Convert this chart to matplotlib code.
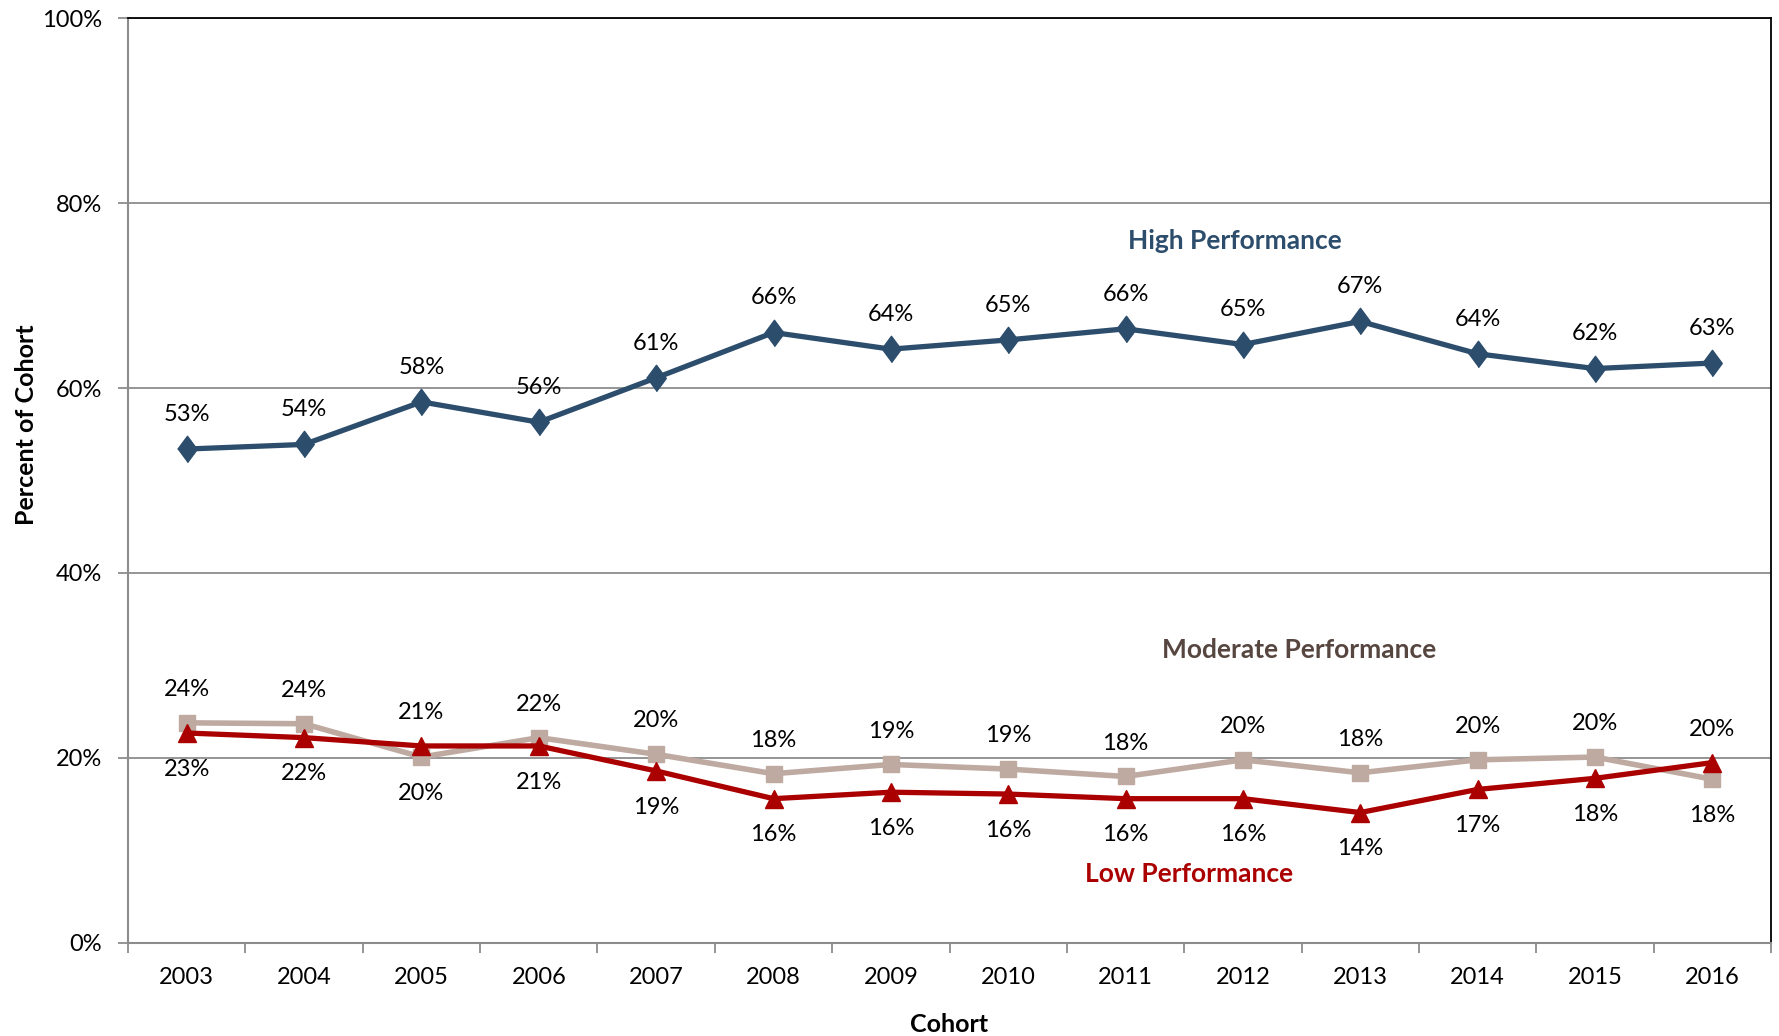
import matplotlib.pyplot as plt
import matplotlib.ticker as mticker
import numpy as np

plt.rcParams["font.family"] = ["Lato", "DejaVu Sans"]

cohorts = ["2003", "2004", "2005", "2006", "2007", "2008", "2009",
           "2010", "2011", "2012", "2013", "2014", "2015", "2016"]
high = [53.4, 53.9, 58.5, 56.3, 61.1, 66.0, 64.2, 65.2, 66.4, 64.7, 67.2, 63.7, 62.1, 62.7]
moderate = [23.8, 23.7, 20.1, 22.2, 20.4, 18.3, 19.3, 18.8, 18.0, 19.8, 18.4, 19.8, 20.1, 17.7]
low = [22.7, 22.2, 21.3, 21.3, 18.6, 15.6, 16.3, 16.1, 15.6, 15.6, 14.1, 16.6, 17.8, 19.5]

# where the data label sits relative to the point (manual placement like the original)
moderate_pos = ["above", "above", "below", "above", "above", "above", "above",
                "above", "above", "above", "above", "above", "above", "below"]
low_pos = ["below", "below", "above", "below", "below", "below", "below",
           "below", "below", "below", "below", "below", "below", "above"]

c_high = "#2C4D6C"
c_mod = "#BFAAA2"
c_low = "#AA0000"

x = np.arange(len(cohorts))

fig = plt.figure(figsize=(17.79, 10.36), dpi=100)
ax = fig.add_axes([0.072, 0.0898, 0.9235, 0.8928])

ax.yaxis.grid(True, color="#8C8C8C", linewidth=1.3)
ax.set_axisbelow(True)

diamond = [(0, -1.35), (1, 0), (0, 1.35), (-1, 0)]
ax.plot(x, high, color=c_high, linewidth=3.8, marker=diamond, markersize=19, zorder=3)
ax.plot(x, moderate, color=c_mod, linewidth=4, marker="s", markersize=12, zorder=3)
ax.plot(x, low, color=c_low, linewidth=3.8, marker="^", markersize=13, zorder=4)

for i, v in enumerate(high):
    ax.annotate(f"{v:.0f}%", (x[i], v), xytext=(0, 25), textcoords="offset points",
                ha="center", va="center", fontsize=17)
for series, pos in ((moderate, moderate_pos), (low, low_pos)):
    for i, v in enumerate(series):
        dy = 24 if pos[i] == "above" else -26
        ax.annotate(f"{v:.0f}%", (x[i], v), xytext=(0, dy), textcoords="offset points",
                    ha="center", va="center", fontsize=17)

ax.text(8.93, 75.9, "High Performance", color=c_high, fontsize=19, fontweight="bold",
        ha="center", va="center")
ax.text(9.48, 31.7, "Moderate Performance", color="#574640", fontsize=19, fontweight="bold",
        ha="center", va="center")
ax.text(8.54, 7.5, "Low Performance", color=c_low, fontsize=19, fontweight="bold",
        ha="center", va="center")

ax.set_xlim(-0.5, len(cohorts) - 0.5)
ax.set_ylim(0, 100)
ax.set_yticks([0, 20, 40, 60, 80, 100])
ax.yaxis.set_major_formatter(mticker.FuncFormatter(lambda v, p: f"{v:.0f}%"))
ax.set_xticks(x)
ax.set_xticklabels(cohorts)
ax.set_xticks(np.arange(-0.5, len(cohorts)), minor=True)
ax.tick_params(axis="x", which="major", length=0, pad=17, labelsize=17)
ax.tick_params(axis="x", which="minor", length=7, width=1.3, color="#8C8C8C")
ax.tick_params(axis="y", length=7, width=1.3, color="#8C8C8C", pad=12, labelsize=17)

for s in ("left", "bottom"):
    ax.spines[s].set_color("#8C8C8C")
    ax.spines[s].set_linewidth(1.5)
for s in ("top", "right"):
    ax.spines[s].set_color("black")
    ax.spines[s].set_linewidth(1.3)

ax.set_xlabel("Cohort", fontsize=18, fontweight="bold", labelpad=18)
ax.set_ylabel("Percent of Cohort", fontsize=18, fontweight="bold")
ax.yaxis.set_label_coords(-0.055, 0.56)

fig.savefig("out.png", dpi=100)
